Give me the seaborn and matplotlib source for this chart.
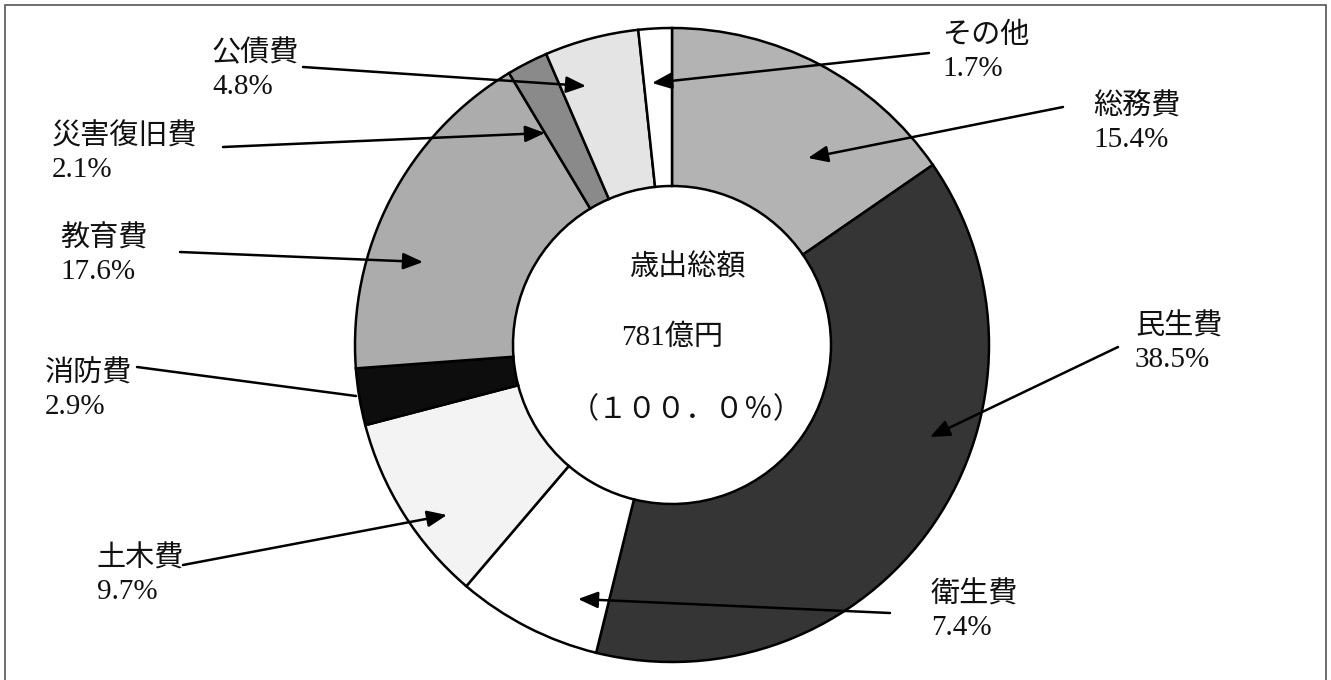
import matplotlib
matplotlib.use('Agg')
import matplotlib.pyplot as plt
from matplotlib.patches import Rectangle
import seaborn as sns

# 歳出の内訳 (%)
categories = ['総務費', '民生費', '衛生費', '土木費', '消防費', '教育費', '災害復旧費', '公債費', 'その他']
shares = [15.4, 38.5, 7.4, 9.7, 2.9, 17.6, 2.1, 4.8, 1.7]
shades = ['#b3b3b3', '#353535', '#ffffff', '#f3f3f3', '#0d0d0d', '#acacac', '#8a8a8a', '#e4e4e4', '#ffffff']

total_title = '歳出総額'
total_amount = '781億円'
total_pct = '（１００．０％）'

# label block (left, top) and leader line start / end, in image pixels (y down)
label_xy = [(1093, 93), (1135, 313), (931, 581), (97, 545), (45, 360), (60, 225), (52, 123), (212, 40), (942, 23)]
line_from = [(1063, 107), (1118, 347), (890, 613), (183, 565), (137, 367), (180, 252), (223, 147), (303, 67), (929, 53)]
line_to = [(808, 158), (930, 437), (578, 599), (447, 515), (356, 396), (423, 262), (545, 133), (586, 86), (652, 83)]
has_head = [True, True, True, True, False, True, True, True, True]

W, H = 1331, 680
def flip(p):
    return (p[0], H - p[1])

sns.set_theme(style='white')
plt.rcParams['font.family'] = ['Liberation Serif', 'Noto Sans CJK JP', 'DejaVu Sans']

fig = plt.figure(figsize=(W / 100, H / 100), dpi=100)
ax = fig.add_axes([0, 0, 1, 1])

ax.pie(shares, colors=shades, startangle=90, counterclock=False,
       center=(672, H - 345), radius=317,
       wedgeprops=dict(width=158, edgecolor='black', linewidth=1.8))

ax.set_xlim(0, W)
ax.set_ylim(0, H)
ax.set_aspect('equal', adjustable='box')
ax.axis('off')

# outer frame
ax.add_patch(Rectangle((5, -10), W - 10, H - 5 + 10, fill=False, edgecolor='#555555',
                       linewidth=1.2, clip_on=False))

for i, name in enumerate(categories):
    x, y = flip(label_xy[i])
    ax.text(x, y, f'{name}\n{shares[i]:.1f}%', ha='left', va='top',
            fontsize=21, linespacing=1.32, color='#111111')
    style = '-|>,head_length=0.6,head_width=0.25' if has_head[i] else '-'
    ax.annotate('', xy=flip(line_to[i]), xytext=flip(line_from[i]),
                arrowprops=dict(arrowstyle=style, color='black', lw=1.8,
                                mutation_scale=20, shrinkA=0, shrinkB=0))

ax.text(687, H - 268, total_title, ha='center', va='center', fontsize=21, color='#111111')
ax.text(672, H - 338, total_amount, ha='center', va='center', fontsize=21, color='#111111')
ax.text(686, H - 410, total_pct, ha='center', va='center', fontsize=21, color='#111111')

fig.savefig('out.png', dpi=100)
